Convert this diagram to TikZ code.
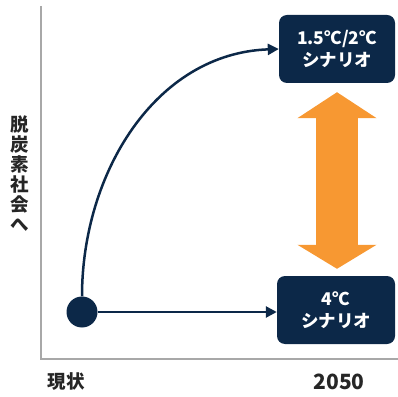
\documentclass[tikz,border=0pt]{standalone}
\usepackage{fontspec}
\setmainfont{Noto Sans CJK JP}
\usepackage{tikz}
\usetikzlibrary{arrows.meta}
\definecolor{navy}{HTML}{0C2848}
\definecolor{orng}{HTML}{F79832}
\definecolor{axisgray}{HTML}{A8A8A8}
\tikzset{
  scenario/.style={fill=navy, rounded corners=8pt, text=white, font=\bfseries\fontsize{17.5}{22}\selectfont, align=center, minimum height=68pt, inner sep=0pt},
  pathline/.style={draw=navy, line width=2.5pt, -{Triangle[width=11pt,length=11pt]}},
  axislabel/.style={font=\bfseries\fontsize{18.5}{20}\selectfont, text=black!85}
}
\begin{document}
\begin{tikzpicture}[x=1pt,y=1pt]
                \useasboundingbox (0,0) rectangle (398,396);
                % axes
                \draw[axisgray, line width=1.5pt] (41,390) -- (41,37) -- (398,37);
                \node[axislabel, align=center, inner sep=0pt] (goal) at (20,222) {脱\\炭\\素\\社\\会\\へ};
                \node[axislabel] (now) at (66,14) {現状};
                \node[axislabel, font=\bfseries\fontsize{21}{22}\selectfont] (year) at (339,14) {2050};
                % scenarios
                \node[scenario, minimum width=116pt] (up) at (337,347) {1.5℃/2℃\\シナリオ};
                \node[scenario, minimum width=118pt] (down) at (336,86) {4℃\\シナリオ};
                \node[circle, fill=navy, minimum size=31pt, inner sep=0pt] (dot) at (82,84) {};
                \draw[pathline] (dot.north) to[out=90, in=182] (up.west);
                \draw[pathline] (dot.east) -- (down.west |- dot.east);
                \draw[orng, line width=42pt, shorten <=7pt, shorten >=9pt,
                  {Triangle[width=78pt,length=24pt]}-{Triangle[width=78pt,length=26pt]}]
                  (down.north -| up.south) -- (up.south);
            \end{tikzpicture}
\end{document}
